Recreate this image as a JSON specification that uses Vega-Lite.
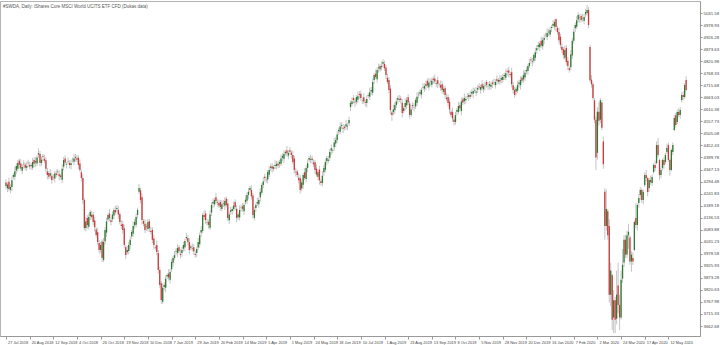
{
"$schema":"https://vega.github.io/schema/vega-lite/v6.json",
"width":700,"height":335,
"autosize":{"type":"none"},
"padding":{"left":0,"top":1,"right":20,"bottom":9},
"background":"#ffffff",
"config":{"view":{"stroke":"#b4b4b4","strokeWidth":1},"font":"Liberation Sans","axis":{"labelOverlap":false,"labelFlush":false,"labelBound":false}},
"title":{"text":"#SWDA, Daily: iShares Core MSCI World UCITS ETF CFD (Dukas data)","anchor":"start","orient":"top","offset":-7,"fontSize":4.5,"fontWeight":"normal","color":"#555555","font":"Liberation Sans","dx":3},
"data":{"values":[
{"i":0,"o":4290,"h":4304,"l":4263,"c":4275},{"i":1,"o":4265,"h":4292,"l":4248,"c":4282},{"i":2,"o":4294,"h":4312,"l":4252,"c":4262},{"i":3,"o":4258,"h":4283,"l":4243,"c":4271},{"i":4,"o":4271,"h":4316,"l":4252,"c":4300},{"i":5,"o":4315,"h":4332,"l":4304,"c":4323},{"i":6,"o":4315,"h":4360,"l":4301,"c":4340},{"i":7,"o":4343,"h":4375,"l":4327,"c":4362},{"i":8,"o":4350,"h":4390,"l":4338,"c":4376},{"i":9,"o":4385,"h":4395,"l":4351,"c":4368},
{"i":10,"o":4374,"h":4392,"l":4342,"c":4352},{"i":11,"o":4342,"h":4370,"l":4327,"c":4358},{"i":12,"o":4370,"h":4388,"l":4351,"c":4372},{"i":13,"o":4368,"h":4377,"l":4344,"c":4355},{"i":14,"o":4355,"h":4382,"l":4341,"c":4362},{"i":15,"o":4377,"h":4390,"l":4359,"c":4375},{"i":16,"o":4367,"h":4381,"l":4348,"c":4360},{"i":17,"o":4363,"h":4377,"l":4346,"c":4367},{"i":18,"o":4355,"h":4398,"l":4345,"c":4380},{"i":19,"o":4389,"h":4401,"l":4357,"c":4372},
{"i":20,"o":4378,"h":4400,"l":4359,"c":4384},{"i":21,"o":4374,"h":4409,"l":4363,"c":4400},{"i":22,"o":4412,"h":4439,"l":4398,"c":4419},{"i":23,"o":4415,"h":4428,"l":4360,"c":4376},{"i":24,"o":4376,"h":4404,"l":4364,"c":4390},{"i":25,"o":4405,"h":4415,"l":4385,"c":4402},{"i":26,"o":4394,"h":4412,"l":4375,"c":4385},{"i":27,"o":4388,"h":4400,"l":4335,"c":4350},{"i":28,"o":4338,"h":4354,"l":4304,"c":4323},{"i":29,"o":4332,"h":4341,"l":4304,"c":4315},
{"i":30,"o":4321,"h":4350,"l":4307,"c":4330},{"i":31,"o":4320,"h":4333,"l":4285,"c":4301},{"i":32,"o":4313,"h":4327,"l":4300,"c":4312},{"i":33,"o":4308,"h":4340,"l":4291,"c":4330},{"i":34,"o":4330,"h":4348,"l":4313,"c":4323},{"i":35,"o":4338,"h":4350,"l":4320,"c":4335},{"i":36,"o":4327,"h":4343,"l":4299,"c":4318},{"i":37,"o":4321,"h":4330,"l":4303,"c":4314},{"i":38,"o":4302,"h":4370,"l":4288,"c":4350},{"i":39,"o":4359,"h":4402,"l":4343,"c":4389},
{"i":40,"o":4395,"h":4409,"l":4366,"c":4378},{"i":41,"o":4368,"h":4380,"l":4351,"c":4370},{"i":42,"o":4382,"h":4400,"l":4370,"c":4380},{"i":43,"o":4376,"h":4388,"l":4352,"c":4367},{"i":44,"o":4367,"h":4391,"l":4348,"c":4375},{"i":45,"o":4390,"h":4399,"l":4378,"c":4389},{"i":46,"o":4381,"h":4415,"l":4367,"c":4395},{"i":47,"o":4398,"h":4415,"l":4382,"c":4402},{"i":48,"o":4396,"h":4410,"l":4378,"c":4390},{"i":49,"o":4399,"h":4409,"l":4350,"c":4367},
{"i":50,"o":4373,"h":4391,"l":4335,"c":4345},{"i":51,"o":4335,"h":4347,"l":4295,"c":4310},{"i":52,"o":4310,"h":4326,"l":4195,"c":4214},{"i":53,"o":4214,"h":4223,"l":4080,"c":4091},{"i":54,"o":4091,"h":4140,"l":4077,"c":4120},{"i":55,"o":4135,"h":4148,"l":4089,"c":4105},{"i":56,"o":4097,"h":4154,"l":4085,"c":4140},{"i":57,"o":4143,"h":4171,"l":4126,"c":4161},{"i":58,"o":4149,"h":4167,"l":4130,"c":4140},{"i":59,"o":4149,"h":4161,"l":4103,"c":4118},
{"i":60,"o":4124,"h":4140,"l":4076,"c":4095},{"i":61,"o":4085,"h":4094,"l":4050,"c":4061},{"i":62,"o":4073,"h":4093,"l":4016,"c":4030},{"i":63,"o":4026,"h":4039,"l":3979,"c":3995},{"i":64,"o":3995,"h":4031,"l":3983,"c":4017},{"i":65,"o":4032,"h":4042,"l":3943,"c":3960},{"i":66,"o":3952,"h":4048,"l":3942,"c":4030},{"i":67,"o":4033,"h":4095,"l":4018,"c":4083},{"i":68,"o":4071,"h":4136,"l":4052,"c":4120},{"i":69,"o":4129,"h":4157,"l":4118,"c":4148},
{"i":70,"o":4154,"h":4174,"l":4121,"c":4135},{"i":71,"o":4125,"h":4138,"l":4102,"c":4118},{"i":72,"o":4130,"h":4164,"l":4118,"c":4150},{"i":73,"o":4146,"h":4180,"l":4129,"c":4170},{"i":74,"o":4170,"h":4188,"l":4150,"c":4160},{"i":75,"o":4175,"h":4191,"l":4160,"c":4179},{"i":76,"o":4171,"h":4187,"l":4131,"c":4150},{"i":77,"o":4153,"h":4162,"l":4107,"c":4118},{"i":78,"o":4106,"h":4126,"l":4086,"c":4100},{"i":79,"o":4109,"h":4122,"l":4067,"c":4083},
{"i":80,"o":4089,"h":4103,"l":4005,"c":4017},{"i":81,"o":4007,"h":4017,"l":3956,"c":3973},{"i":82,"o":3985,"h":4013,"l":3975,"c":3995},{"i":83,"o":3991,"h":4029,"l":3976,"c":4017},{"i":84,"o":4017,"h":4056,"l":3998,"c":4040},{"i":85,"o":4055,"h":4083,"l":4044,"c":4074},{"i":86,"o":4066,"h":4120,"l":4052,"c":4100},{"i":87,"o":4103,"h":4131,"l":4087,"c":4118},{"i":88,"o":4106,"h":4154,"l":4094,"c":4140},{"i":89,"o":4149,"h":4180,"l":4132,"c":4170},
{"i":90,"o":4250,"h":4284,"l":4240,"c":4266},{"i":91,"o":4256,"h":4268,"l":4199,"c":4214},{"i":92,"o":4226,"h":4242,"l":4107,"c":4126},{"i":93,"o":4122,"h":4131,"l":4099,"c":4110},{"i":94,"o":4110,"h":4130,"l":4069,"c":4083},{"i":95,"o":4098,"h":4111,"l":4079,"c":4095},{"i":96,"o":4087,"h":4132,"l":4075,"c":4118},{"i":97,"o":4121,"h":4131,"l":4073,"c":4090},{"i":98,"o":4078,"h":4096,"l":4064,"c":4074},{"i":99,"o":4083,"h":4095,"l":4025,"c":4040},
{"i":100,"o":4046,"h":4062,"l":3998,"c":4017},{"i":101,"o":4007,"h":4016,"l":3994,"c":4005},{"i":102,"o":4017,"h":4037,"l":3972,"c":3986},{"i":103,"o":3982,"h":3995,"l":3892,"c":3908},{"i":104,"o":3908,"h":3922,"l":3830,"c":3842},{"i":105,"o":3850,"h":3860,"l":3760,"c":3777},{"i":106,"o":3769,"h":3848,"l":3759,"c":3830},{"i":107,"o":3833,"h":3854,"l":3818,"c":3842},{"i":108,"o":3830,"h":3886,"l":3811,"c":3870},{"i":109,"o":3879,"h":3895,"l":3868,"c":3886},
{"i":110,"o":3892,"h":3912,"l":3861,"c":3875},{"i":111,"o":3865,"h":3912,"l":3849,"c":3899},{"i":112,"o":3911,"h":3957,"l":3899,"c":3943},{"i":113,"o":3939,"h":3970,"l":3922,"c":3960},{"i":114,"o":3960,"h":3991,"l":3950,"c":3973},{"i":115,"o":3988,"h":4002,"l":3973,"c":3990},{"i":116,"o":3982,"h":4020,"l":3963,"c":4004},{"i":117,"o":4007,"h":4016,"l":3979,"c":3990},{"i":118,"o":3978,"h":3998,"l":3959,"c":3973},{"i":119,"o":3982,"h":4008,"l":3966,"c":3995},
{"i":120,"o":4001,"h":4031,"l":3989,"c":4017},{"i":121,"o":4007,"h":4045,"l":3990,"c":4035},{"i":122,"o":4047,"h":4070,"l":4037,"c":4052},{"i":123,"o":4048,"h":4060,"l":4015,"c":4030},{"i":124,"o":4030,"h":4046,"l":3976,"c":3995},{"i":125,"o":4005,"h":4019,"l":3994,"c":4010},{"i":126,"o":4002,"h":4024,"l":3988,"c":4004},{"i":127,"o":4007,"h":4020,"l":3974,"c":3990},{"i":128,"o":3978,"h":3992,"l":3961,"c":3973},{"i":129,"o":3982,"h":4010,"l":3965,"c":4000},
{"i":130,"o":4006,"h":4048,"l":3996,"c":4030},{"i":131,"o":4020,"h":4072,"l":4005,"c":4060},{"i":132,"o":4072,"h":4099,"l":4053,"c":4083},{"i":133,"o":4079,"h":4157,"l":4068,"c":4148},{"i":134,"o":4148,"h":4168,"l":4126,"c":4140},{"i":135,"o":4155,"h":4168,"l":4110,"c":4126},{"i":136,"o":4118,"h":4132,"l":4103,"c":4115},{"i":137,"o":4118,"h":4128,"l":4088,"c":4105},{"i":138,"o":4093,"h":4168,"l":4083,"c":4150},{"i":139,"o":4159,"h":4204,"l":4144,"c":4192},
{"i":140,"o":4198,"h":4221,"l":4179,"c":4205},{"i":141,"o":4195,"h":4223,"l":4184,"c":4214},{"i":142,"o":4226,"h":4246,"l":4194,"c":4208},{"i":143,"o":4204,"h":4217,"l":4185,"c":4201},{"i":144,"o":4201,"h":4215,"l":4178,"c":4190},{"i":145,"o":4205,"h":4215,"l":4166,"c":4183},{"i":146,"o":4175,"h":4213,"l":4165,"c":4195},{"i":147,"o":4198,"h":4213,"l":4183,"c":4201},{"i":148,"o":4189,"h":4226,"l":4170,"c":4210},{"i":149,"o":4219,"h":4228,"l":4181,"c":4192},
{"i":150,"o":4198,"h":4218,"l":4121,"c":4135},{"i":151,"o":4125,"h":4163,"l":4109,"c":4150},{"i":152,"o":4162,"h":4184,"l":4150,"c":4170},{"i":153,"o":4166,"h":4185,"l":4149,"c":4175},{"i":154,"o":4175,"h":4208,"l":4165,"c":4190},{"i":155,"o":4205,"h":4217,"l":4168,"c":4183},{"i":156,"o":4175,"h":4191,"l":4116,"c":4135},{"i":157,"o":4138,"h":4159,"l":4127,"c":4150},{"i":158,"o":4138,"h":4190,"l":4124,"c":4170},{"i":159,"o":4179,"h":4193,"l":4163,"c":4180},
{"i":160,"o":4186,"h":4200,"l":4163,"c":4175},{"i":161,"o":4165,"h":4202,"l":4148,"c":4192},{"i":162,"o":4204,"h":4233,"l":4194,"c":4215},{"i":163,"o":4211,"h":4248,"l":4196,"c":4236},{"i":164,"o":4236,"h":4266,"l":4217,"c":4250},{"i":165,"o":4258,"h":4275,"l":4247,"c":4266},{"i":166,"o":4258,"h":4278,"l":4216,"c":4230},{"i":167,"o":4233,"h":4246,"l":4132,"c":4148},{"i":168,"o":4136,"h":4184,"l":4124,"c":4170},{"i":169,"o":4179,"h":4202,"l":4162,"c":4192},
{"i":170,"o":4198,"h":4223,"l":4188,"c":4205},{"i":171,"o":4195,"h":4226,"l":4180,"c":4214},{"i":172,"o":4226,"h":4266,"l":4207,"c":4250},{"i":173,"o":4246,"h":4288,"l":4235,"c":4279},{"i":174,"o":4279,"h":4315,"l":4265,"c":4295},{"i":175,"o":4316,"h":4329,"l":4294,"c":4310},{"i":176,"o":4302,"h":4316,"l":4288,"c":4300},{"i":177,"o":4303,"h":4346,"l":4286,"c":4336},{"i":178,"o":4324,"h":4363,"l":4314,"c":4345},{"i":179,"o":4360,"h":4372,"l":4339,"c":4354},
{"i":180,"o":4352,"h":4376,"l":4333,"c":4360},{"i":181,"o":4358,"h":4367,"l":4339,"c":4350},{"i":182,"o":4362,"h":4387,"l":4348,"c":4367},{"i":183,"o":4363,"h":4385,"l":4347,"c":4372},{"i":184,"o":4372,"h":4386,"l":4353,"c":4365},{"i":185,"o":4372,"h":4390,"l":4355,"c":4380},{"i":186,"o":4372,"h":4413,"l":4362,"c":4395},{"i":187,"o":4398,"h":4418,"l":4383,"c":4406},{"i":188,"o":4394,"h":4431,"l":4375,"c":4415},{"i":189,"o":4418,"h":4433,"l":4407,"c":4424},
{"i":190,"o":4430,"h":4450,"l":4404,"c":4418},{"i":191,"o":4408,"h":4432,"l":4392,"c":4419},{"i":192,"o":4431,"h":4445,"l":4413,"c":4425},{"i":193,"o":4421,"h":4431,"l":4394,"c":4411},{"i":194,"o":4411,"h":4429,"l":4370,"c":4380},{"i":195,"o":4395,"h":4407,"l":4330,"c":4345},{"i":196,"o":4337,"h":4353,"l":4316,"c":4335},{"i":197,"o":4338,"h":4347,"l":4312,"c":4323},{"i":198,"o":4311,"h":4331,"l":4286,"c":4300},{"i":199,"o":4309,"h":4322,"l":4242,"c":4258},
{"i":200,"o":4264,"h":4304,"l":4252,"c":4290},{"i":201,"o":4280,"h":4333,"l":4263,"c":4323},{"i":202,"o":4335,"h":4353,"l":4300,"c":4310},{"i":203,"o":4306,"h":4366,"l":4291,"c":4354},{"i":204,"o":4354,"h":4391,"l":4335,"c":4375},{"i":205,"o":4390,"h":4406,"l":4379,"c":4397},{"i":206,"o":4389,"h":4412,"l":4375,"c":4392},{"i":207,"o":4395,"h":4408,"l":4373,"c":4389},{"i":208,"o":4377,"h":4391,"l":4358,"c":4370},{"i":209,"o":4379,"h":4389,"l":4328,"c":4345},
{"i":210,"o":4351,"h":4369,"l":4315,"c":4325},{"i":211,"o":4315,"h":4347,"l":4300,"c":4335},{"i":212,"o":4347,"h":4363,"l":4281,"c":4300},{"i":213,"o":4296,"h":4305,"l":4277,"c":4288},{"i":214,"o":4288,"h":4340,"l":4274,"c":4320},{"i":215,"o":4335,"h":4367,"l":4319,"c":4354},{"i":216,"o":4346,"h":4394,"l":4334,"c":4380},{"i":217,"o":4383,"h":4407,"l":4366,"c":4397},{"i":218,"o":4385,"h":4408,"l":4375,"c":4390},{"i":219,"o":4399,"h":4436,"l":4384,"c":4424},
{"i":220,"o":4430,"h":4456,"l":4411,"c":4440},{"i":221,"o":4430,"h":4441,"l":4419,"c":4432},{"i":222,"o":4444,"h":4485,"l":4430,"c":4465},{"i":223,"o":4461,"h":4489,"l":4445,"c":4476},{"i":224,"o":4476,"h":4514,"l":4464,"c":4500},{"i":225,"o":4515,"h":4530,"l":4498,"c":4520},{"i":226,"o":4512,"h":4553,"l":4502,"c":4535},{"i":227,"o":4538,"h":4554,"l":4523,"c":4542},{"i":228,"o":4530,"h":4546,"l":4506,"c":4525},{"i":229,"o":4534,"h":4543,"l":4518,"c":4529},
{"i":230,"o":4535,"h":4565,"l":4521,"c":4545},{"i":231,"o":4535,"h":4551,"l":4519,"c":4538},{"i":232,"o":4550,"h":4578,"l":4538,"c":4564},{"i":233,"o":4620,"h":4648,"l":4603,"c":4638},{"i":234,"o":4634,"h":4663,"l":4624,"c":4645},{"i":235,"o":4660,"h":4672,"l":4636,"c":4651},{"i":236,"o":4643,"h":4659,"l":4621,"c":4640},{"i":237,"o":4643,"h":4673,"l":4632,"c":4664},{"i":238,"o":4652,"h":4688,"l":4638,"c":4668},{"i":239,"o":4677,"h":4690,"l":4657,"c":4673},
{"i":240,"o":4679,"h":4693,"l":4648,"c":4660},{"i":241,"o":4650,"h":4661,"l":4633,"c":4651},{"i":242,"o":4663,"h":4681,"l":4635,"c":4645},{"i":243,"o":4641,"h":4653,"l":4623,"c":4638},{"i":244,"o":4638,"h":4671,"l":4619,"c":4655},{"i":245,"o":4670,"h":4682,"l":4659,"c":4673},{"i":246,"o":4665,"h":4705,"l":4651,"c":4685},{"i":247,"o":4688,"h":4708,"l":4672,"c":4695},{"i":248,"o":4683,"h":4744,"l":4671,"c":4730},{"i":249,"o":4739,"h":4770,"l":4722,"c":4760},
{"i":250,"o":4766,"h":4784,"l":4742,"c":4752},{"i":251,"o":4742,"h":4794,"l":4727,"c":4782},{"i":252,"o":4794,"h":4810,"l":4771,"c":4790},{"i":253,"o":4786,"h":4809,"l":4775,"c":4800},{"i":254,"o":4800,"h":4820,"l":4781,"c":4795},{"i":255,"o":4810,"h":4830,"l":4794,"c":4817},{"i":256,"o":4809,"h":4823,"l":4778,"c":4790},{"i":257,"o":4793,"h":4803,"l":4743,"c":4760},{"i":258,"o":4748,"h":4766,"l":4720,"c":4730},{"i":259,"o":4739,"h":4751,"l":4680,"c":4695},
{"i":260,"o":4701,"h":4717,"l":4588,"c":4607},{"i":261,"o":4597,"h":4606,"l":4560,"c":4586},{"i":262,"o":4598,"h":4630,"l":4584,"c":4610},{"i":263,"o":4606,"h":4642,"l":4590,"c":4629},{"i":264,"o":4629,"h":4659,"l":4617,"c":4645},{"i":265,"o":4652,"h":4670,"l":4635,"c":4660},{"i":266,"o":4652,"h":4673,"l":4642,"c":4655},{"i":267,"o":4658,"h":4670,"l":4636,"c":4651},{"i":268,"o":4639,"h":4655,"l":4575,"c":4594},{"i":269,"o":4603,"h":4624,"l":4592,"c":4615},
{"i":270,"o":4621,"h":4658,"l":4607,"c":4638},{"i":271,"o":4628,"h":4664,"l":4612,"c":4651},{"i":272,"o":4663,"h":4677,"l":4628,"c":4640},{"i":273,"o":4636,"h":4646,"l":4569,"c":4586},{"i":274,"o":4586,"h":4628,"l":4576,"c":4610},{"i":275,"o":4625,"h":4641,"l":4610,"c":4629},{"i":276,"o":4621,"h":4637,"l":4601,"c":4620},{"i":277,"o":4623,"h":4660,"l":4612,"c":4651},{"i":278,"o":4639,"h":4685,"l":4625,"c":4665},{"i":279,"o":4674,"h":4687,"l":4657,"c":4673},
{"i":280,"o":4679,"h":4699,"l":4667,"c":4685},{"i":281,"o":4675,"h":4705,"l":4658,"c":4695},{"i":282,"o":4707,"h":4725,"l":4695,"c":4705},{"i":283,"o":4701,"h":4724,"l":4686,"c":4712},{"i":284,"o":4712,"h":4736,"l":4693,"c":4720},{"i":285,"o":4735,"h":4744,"l":4704,"c":4715},{"i":286,"o":4707,"h":4748,"l":4693,"c":4728},{"i":287,"o":4731,"h":4744,"l":4714,"c":4730},{"i":288,"o":4718,"h":4749,"l":4706,"c":4735},{"i":289,"o":4744,"h":4754,"l":4722,"c":4739},
{"i":290,"o":4745,"h":4763,"l":4722,"c":4732},{"i":291,"o":4722,"h":4738,"l":4707,"c":4726},{"i":292,"o":4738,"h":4754,"l":4703,"c":4722},{"i":293,"o":4718,"h":4727,"l":4706,"c":4717},{"i":294,"o":4717,"h":4737,"l":4691,"c":4705},{"i":295,"o":4720,"h":4733,"l":4679,"c":4695},{"i":296,"o":4687,"h":4714,"l":4675,"c":4700},{"i":297,"o":4703,"h":4713,"l":4656,"c":4673},{"i":298,"o":4661,"h":4679,"l":4645,"c":4655},{"i":299,"o":4664,"h":4676,"l":4623,"c":4638},
{"i":300,"o":4644,"h":4660,"l":4591,"c":4610},{"i":301,"o":4600,"h":4609,"l":4575,"c":4586},{"i":302,"o":4598,"h":4618,"l":4556,"c":4570},{"i":303,"o":4566,"h":4579,"l":4539,"c":4555},{"i":304,"o":4555,"h":4599,"l":4543,"c":4585},{"i":305,"o":4600,"h":4617,"l":4583,"c":4607},{"i":306,"o":4599,"h":4643,"l":4589,"c":4625},{"i":307,"o":4628,"h":4640,"l":4600,"c":4615},{"i":308,"o":4603,"h":4661,"l":4584,"c":4645},{"i":309,"o":4654,"h":4663,"l":4629,"c":4640},
{"i":310,"o":4646,"h":4680,"l":4632,"c":4660},{"i":311,"o":4650,"h":4668,"l":4634,"c":4655},{"i":312,"o":4667,"h":4681,"l":4655,"c":4668},{"i":313,"o":4664,"h":4683,"l":4647,"c":4673},{"i":314,"o":4673,"h":4691,"l":4655,"c":4665},{"i":315,"o":4680,"h":4698,"l":4665,"c":4686},{"i":316,"o":4678,"h":4706,"l":4659,"c":4690},{"i":317,"o":4693,"h":4704,"l":4682,"c":4695},{"i":318,"o":4683,"h":4708,"l":4669,"c":4688},{"i":319,"o":4697,"h":4717,"l":4681,"c":4704},
{"i":320,"o":4710,"h":4724,"l":4694,"c":4706},{"i":321,"o":4696,"h":4718,"l":4679,"c":4708},{"i":322,"o":4720,"h":4738,"l":4692,"c":4702},{"i":323,"o":4698,"h":4724,"l":4683,"c":4712},{"i":324,"o":4712,"h":4731,"l":4693,"c":4715},{"i":325,"o":4730,"h":4739,"l":4706,"c":4717},{"i":326,"o":4709,"h":4730,"l":4695,"c":4710},{"i":327,"o":4713,"h":4734,"l":4697,"c":4721},{"i":328,"o":4709,"h":4732,"l":4697,"c":4718},{"i":329,"o":4727,"h":4737,"l":4704,"c":4721},
{"i":330,"o":4727,"h":4745,"l":4716,"c":4726},{"i":331,"o":4716,"h":4742,"l":4701,"c":4730},{"i":332,"o":4742,"h":4758,"l":4716,"c":4735},{"i":333,"o":4731,"h":4748,"l":4720,"c":4739},{"i":334,"o":4739,"h":4759,"l":4718,"c":4732},{"i":335,"o":4740,"h":4760,"l":4724,"c":4747},{"i":336,"o":4739,"h":4766,"l":4727,"c":4752},{"i":337,"o":4755,"h":4770,"l":4738,"c":4760},{"i":338,"o":4748,"h":4786,"l":4738,"c":4768},{"i":339,"o":4777,"h":4789,"l":4759,"c":4774},
{"i":340,"o":4780,"h":4796,"l":4751,"c":4770},{"i":341,"o":4765,"h":4774,"l":4749,"c":4760},{"i":342,"o":4772,"h":4792,"l":4706,"c":4720},{"i":343,"o":4716,"h":4729,"l":4679,"c":4695},{"i":344,"o":4695,"h":4709,"l":4661,"c":4673},{"i":345,"o":4688,"h":4710,"l":4671,"c":4700},{"i":346,"o":4692,"h":4735,"l":4682,"c":4717},{"i":347,"o":4720,"h":4740,"l":4705,"c":4728},{"i":348,"o":4716,"h":4755,"l":4697,"c":4739},{"i":349,"o":4748,"h":4757,"l":4724,"c":4735},
{"i":350,"o":4741,"h":4780,"l":4727,"c":4760},{"i":351,"o":4750,"h":4783,"l":4734,"c":4770},{"i":352,"o":4776,"h":4796,"l":4764,"c":4782},{"i":353,"o":4778,"h":4810,"l":4761,"c":4800},{"i":354,"o":4800,"h":4831,"l":4790,"c":4813},{"i":355,"o":4828,"h":4840,"l":4810,"c":4825},{"i":356,"o":4817,"h":4836,"l":4798,"c":4820},{"i":357,"o":4823,"h":4857,"l":4812,"c":4848},{"i":358,"o":4836,"h":4880,"l":4822,"c":4860},{"i":359,"o":4869,"h":4891,"l":4853,"c":4878},
{"i":360,"o":4884,"h":4906,"l":4872,"c":4892},{"i":361,"o":4882,"h":4908,"l":4865,"c":4898},{"i":362,"o":4910,"h":4928,"l":4880,"c":4890},{"i":363,"o":4886,"h":4927,"l":4871,"c":4915},{"i":364,"o":4915,"h":4938,"l":4896,"c":4922},{"i":365,"o":4937,"h":4946,"l":4924,"c":4935},{"i":366,"o":4927,"h":4964,"l":4913,"c":4944},{"i":367,"o":4947,"h":4963,"l":4931,"c":4950},{"i":368,"o":4938,"h":4971,"l":4926,"c":4957},{"i":369,"o":4966,"h":4980,"l":4949,"c":4970},
{"i":370,"o":4976,"h":5001,"l":4966,"c":4983},{"i":371,"o":4973,"h":5004,"l":4958,"c":4992},{"i":372,"o":5004,"h":5008,"l":4951,"c":4970},{"i":373,"o":4966,"h":4975,"l":4937,"c":4948},{"i":374,"o":4948,"h":4968,"l":4899,"c":4913},{"i":375,"o":4928,"h":4941,"l":4876,"c":4892},{"i":376,"o":4884,"h":4898,"l":4858,"c":4870},{"i":377,"o":4873,"h":4883,"l":4831,"c":4848},{"i":378,"o":4836,"h":4888,"l":4826,"c":4870},{"i":379,"o":4879,"h":4891,"l":4802,"c":4817},
{"i":380,"o":4823,"h":4839,"l":4781,"c":4800},{"i":381,"o":4790,"h":4799,"l":4771,"c":4782},{"i":382,"o":4794,"h":4870,"l":4780,"c":4850},{"i":383,"o":4846,"h":4923,"l":4830,"c":4910},{"i":384,"o":4910,"h":4964,"l":4898,"c":4950},{"i":385,"o":4965,"h":4989,"l":4948,"c":4979},{"i":386,"o":4971,"h":5018,"l":4961,"c":5000},{"i":387,"o":5003,"h":5035,"l":4988,"c":5023},{"i":388,"o":5011,"h":5027,"l":4991,"c":5010},{"i":389,"o":5019,"h":5028,"l":4990,"c":5001},
{"i":390,"o":5007,"h":5028,"l":4993,"c":5008},{"i":391,"o":4998,"h":5027,"l":4982,"c":5014},{"i":392,"o":5026,"h":5050,"l":5014,"c":5036},{"i":393,"o":5032,"h":5066,"l":5020,"c":5045},{"i":394,"o":5045,"h":5058,"l":4965,"c":4979},{"i":395,"o":4883,"h":4892,"l":4730,"c":4738},{"i":396,"o":4740,"h":4760,"l":4705,"c":4720},{"i":397,"o":4720,"h":4730,"l":4650,"c":4660},{"i":398,"o":4650,"h":4660,"l":4550,"c":4565},{"i":399,"o":4565,"h":4580,"l":4345,"c":4400},
{"i":400,"o":4420,"h":4620,"l":4390,"c":4600},{"i":401,"o":4600,"h":4640,"l":4540,"c":4560},{"i":402,"o":4565,"h":4660,"l":4550,"c":4650},{"i":403,"o":4640,"h":4650,"l":4520,"c":4530},{"i":404,"o":4470,"h":4490,"l":4350,"c":4370},{"i":405,"o":4250,"h":4265,"l":4040,"c":4100},{"i":406,"o":4100,"h":4260,"l":4080,"c":4175},{"i":407,"o":4165,"h":4175,"l":4040,"c":4060},{"i":408,"o":4100,"h":4130,"l":3765,"c":3800},{"i":409,"o":3800,"h":3940,"l":3750,"c":3905},
{"i":410,"o":3885,"h":3890,"l":3645,"c":3690},{"i":411,"o":3700,"h":3820,"l":3632,"c":3775},{"i":412,"o":3775,"h":3790,"l":3632,"c":3690},{"i":413,"o":3695,"h":3905,"l":3670,"c":3800},{"i":414,"o":3840,"h":3940,"l":3720,"c":3755},{"i":415,"o":3755,"h":3800,"l":3645,"c":3700},{"i":416,"o":3700,"h":3905,"l":3690,"c":3865},{"i":417,"o":3870,"h":4000,"l":3850,"c":3930},{"i":418,"o":3940,"h":4060,"l":3920,"c":4040},{"i":419,"o":4040,"h":4060,"l":3960,"c":3975},
{"i":420,"o":3975,"h":4080,"l":3960,"c":4060},{"i":421,"o":4060,"h":4110,"l":4000,"c":4075},{"i":422,"o":4050,"h":4060,"l":3930,"c":3945},{"i":423,"o":3945,"h":3990,"l":3900,"c":3975},{"i":424,"o":3960,"h":3985,"l":3930,"c":3945},{"i":425,"o":3995,"h":4125,"l":3990,"c":4118},{"i":426,"o":4135,"h":4200,"l":4090,"c":4105},{"i":427,"o":4105,"h":4200,"l":4080,"c":4192},{"i":428,"o":4201,"h":4240,"l":4180,"c":4223},{"i":429,"o":4236,"h":4270,"l":4215,"c":4258},
{"i":430,"o":4258,"h":4265,"l":4200,"c":4214},{"i":431,"o":4214,"h":4260,"l":4195,"c":4249},{"i":432,"o":4279,"h":4335,"l":4270,"c":4323},{"i":433,"o":4323,"h":4345,"l":4295,"c":4310},{"i":434,"o":4310,"h":4315,"l":4230,"c":4249},{"i":435,"o":4266,"h":4310,"l":4250,"c":4301},{"i":436,"o":4301,"h":4320,"l":4280,"c":4292},{"i":437,"o":4288,"h":4325,"l":4275,"c":4314},{"i":438,"o":4336,"h":4375,"l":4330,"c":4367},{"i":439,"o":4367,"h":4385,"l":4340,"c":4354},
{"i":440,"o":4375,"h":4470,"l":4370,"c":4454},{"i":441,"o":4454,"h":4485,"l":4400,"c":4411},{"i":442,"o":4389,"h":4395,"l":4300,"c":4323},{"i":443,"o":4323,"h":4355,"l":4310,"c":4345},{"i":444,"o":4354,"h":4395,"l":4345,"c":4389},{"i":445,"o":4389,"h":4400,"l":4350,"c":4367},{"i":446,"o":4380,"h":4420,"l":4370,"c":4411},{"i":447,"o":4424,"h":4460,"l":4415,"c":4441},{"i":448,"o":4454,"h":4465,"l":4380,"c":4389},{"i":449,"o":4389,"h":4395,"l":4320,"c":4345},
{"i":450,"o":4345,"h":4440,"l":4340,"c":4432},{"i":451,"o":4424,"h":4465,"l":4410,"c":4454},{"i":452,"o":4520,"h":4585,"l":4515,"c":4572},{"i":453,"o":4585,"h":4595,"l":4530,"c":4542},{"i":454,"o":4555,"h":4610,"l":4545,"c":4599},{"i":455,"o":4599,"h":4615,"l":4575,"c":4586},{"i":456,"o":4586,"h":4620,"l":4570,"c":4607},{"i":457,"o":4651,"h":4685,"l":4640,"c":4673},{"i":458,"o":4673,"h":4690,"l":4650,"c":4664},{"i":459,"o":4664,"h":4725,"l":4655,"c":4717},
{"i":460,"o":4739,"h":4755,"l":4690,"c":4695}
]},
"encoding":{
"x":{"field":"i","type":"quantitative","scale":{"domain":[-0.667,466],"nice":false,"zero":false},
"axis":{"orient":"bottom","values":[0,16,32,48,64,80,96,112,128,144,160,176,192,208,224,240,256,272,288,304,320,336,352,368,384,400,416,432,448],
"labelExpr":"['27 Jul 2018','20 Aug 2018','12 Sep 2018','4 Oct 2018','26 Oct 2018','19 Nov 2018','10 Dec 2018','7 Jan 2019','29 Jan 2019','20 Feb 2019','14 Mar 2019','5 Apr 2019','1 May 2019','24 May 2019','18 Jun 2019','10 Jul 2019','1 Aug 2019','23 Aug 2019','13 Sep 2019','8 Oct 2019','5 Nov 2019','28 Nov 2019','20 Dec 2019','16 Jan 2020','7 Feb 2020','2 Mar 2020','24 Mar 2020','17 Apr 2020','12 May 2020'][round(datum.value/16)]",
"labelAlign":"left","labelBaseline":"top","labelPadding":1,"labelOffset":1.5,"labelFontSize":3.9,"labelColor":"#444444","labelFont":"Liberation Sans","labelOverlap":false,"labelFlush":false,
"tickSize":3,"tickColor":"#999999","domainColor":"#999999","grid":false,"title":null}}
},
"layer":[
{"mark":{"type":"rule","color":"#c4c4c4","strokeWidth":1},
"encoding":{"y":{"field":"l","type":"quantitative","scale":{"domain":[3619.1,5084.1],"nice":false,"zero":false},
"axis":{"orient":"right","values":[5031.58,4978.93,4926.28,4873.63,4820.98,4768.33,4715.68,4663.03,4610.38,4557.73,4505.08,4452.43,4399.78,4347.13,4294.48,4241.83,4189.18,4136.53,4083.88,4031.23,3978.58,3925.93,3873.28,3820.63,3767.98,3715.33,3662.68],
"format":".2f","labelFontSize":4.3,"labelColor":"#444444","labelFont":"Liberation Sans","labelPadding":1,"tickSize":2,"tickColor":"#999999","domainColor":"#999999","grid":false,"title":null,"labelOverlap":false,"labelFlush":false,"labelBound":false}},
"y2":{"field":"h"}}},
{"mark":{"type":"bar","size":1.3},
"encoding":{"y":{"field":"o","type":"quantitative","axis":{"orient":"right","values":[5031.58,4978.93,4926.28,4873.63,4820.98,4768.33,4715.68,4663.03,4610.38,4557.73,4505.08,4452.43,4399.78,4347.13,4294.48,4241.83,4189.18,4136.53,4083.88,4031.23,3978.58,3925.93,3873.28,3820.63,3767.98,3715.33,3662.68],
"format":".2f","labelFontSize":4.3,"labelColor":"#444444","labelFont":"Liberation Sans","labelPadding":1,"tickSize":2,"tickColor":"#999999","domainColor":"#999999","grid":false,"title":null,"labelOverlap":false,"labelFlush":false,"labelBound":false}},"y2":{"field":"c"},
"color":{"condition":{"test":"datum.c >= datum.o","value":"#2e7a32"},"value":"#c93a3a"}}}
]
}
